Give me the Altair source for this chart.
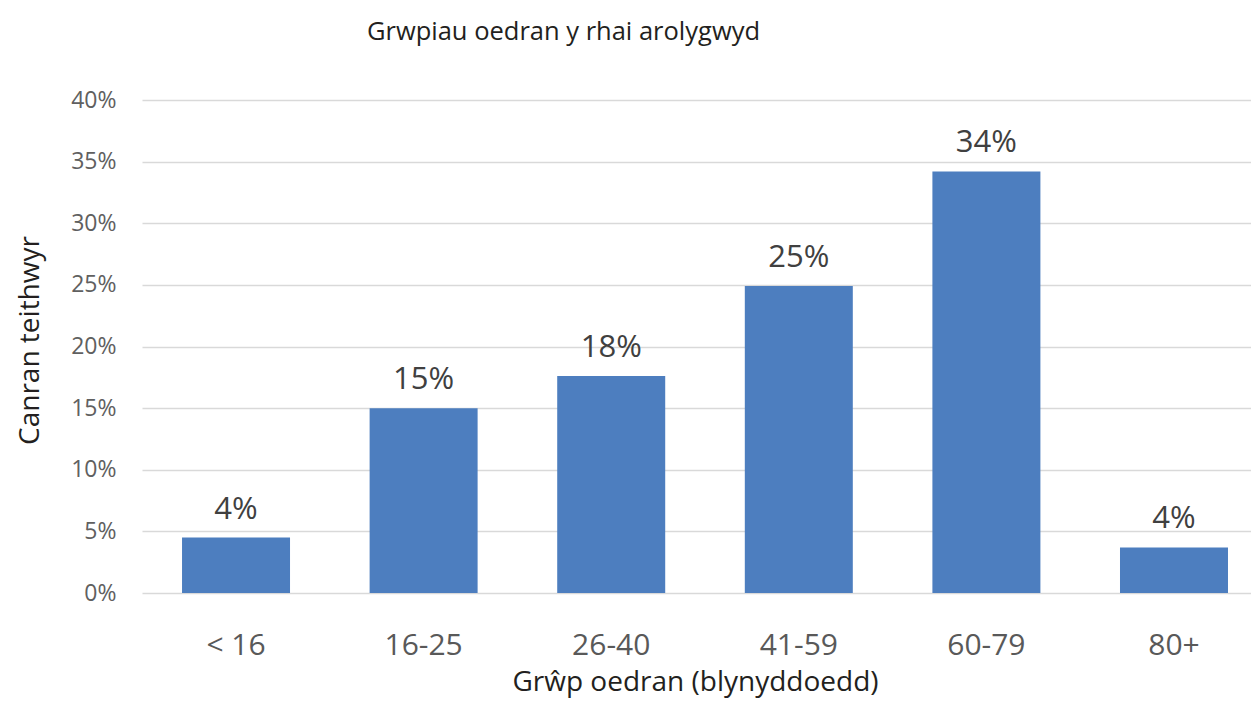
import altair as alt
import pandas as pd

categories = ["< 16", "16-25", "26-40", "41-59", "60-79", "80+"]
values = [0.045, 0.150, 0.176, 0.249, 0.342, 0.037]
labels = ["4%", "15%", "18%", "25%", "34%", "4%"]
y_ticks = [0, 0.05, 0.10, 0.15, 0.20, 0.25, 0.30, 0.35, 0.40]

df = pd.DataFrame({"group": categories, "value": values, "label": labels})

W = 1109
H = 493
TOP = 92

x_scale = alt.Scale(paddingInner=0.4243, paddingOuter=0.168, align=0.635)
y_scale = alt.Scale(domain=[0, 0.40], nice=False)

x_enc = alt.X(
    "group:N",
    sort=categories,
    scale=x_scale,
    axis=alt.Axis(
        title="Grŵp oedran (blynyddoedd)",
        labelAngle=0,
        labelFont="Open Sans",
        labelFontSize=30,
        labelColor="#595959",
        labelPadding=37,
        ticks=False,
        domain=False,
        grid=False,
        titleFont="Open Sans",
        titleFontSize=28,
        titleFontWeight="normal",
        titleColor="#231f20",
        titleX=553,
        titleY=97,
        titleBaseline="alphabetic",
        titleAlign="center",
    ),
)

y_enc = alt.Y(
    "value:Q",
    scale=y_scale,
    axis=alt.Axis(
        title="Canran teithwyr",
        values=y_ticks,
        format=".0%",
        labelFont="Open Sans",
        labelFontSize=23,
        labelColor="#606060",
        labelPadding=26,
        ticks=False,
        domain=False,
        gridColor="#d9d9d9",
        gridWidth=1.3,
        titleFont="Open Sans",
        titleFontSize=28,
        titleFontWeight="normal",
        titleColor="#231f20",
        titleAngle=-90,
        titleX=-112,
        titleY=240,
        titleBaseline="middle",
        titleAlign="center",
    ),
)

bars = alt.Chart(df).mark_bar(color="#4D7EBF").encode(x=x_enc, y=y_enc)

text = alt.Chart(df).mark_text(
    font="Open Sans",
    fontSize=31,
    color="#404040",
    baseline="alphabetic",
    dy=-19,
).encode(
    x=alt.X("group:N", sort=categories),
    y=alt.Y("value:Q"),
    text="label:N",
)

chart = (
    alt.layer(bars, text)
    .properties(
        width=W,
        height=H,
        autosize="none",
        background="white",
        padding={"left": 134, "top": TOP, "right": 0, "bottom": 690 - TOP - H},
        title=alt.TitleParams(
            "Grwpiau oedran y rhai arolygwyd",
            font="Open Sans",
            fontSize=25.5,
            fontWeight="normal",
            color="#231f20",
            anchor="middle",
            dx=-133,
            offset=44,
        ),
    )
    .configure_view(stroke="transparent", strokeWidth=0)
)

chart.save("out.html", embed_options={"renderer": "svg", "actions": False})
